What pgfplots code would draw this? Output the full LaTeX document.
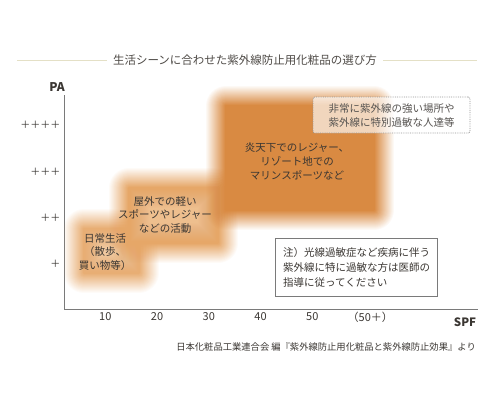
\documentclass[border=0pt]{standalone}
\usepackage{fontspec}
\setmainfont{Noto Sans CJK JP}
\usepackage{pgfplots}
\pgfplotsset{compat=1.18}

\definecolor{txt}{HTML}{3A3632}
\definecolor{axisgray}{HTML}{7A7A7A}
\definecolor{rulebeige}{HTML}{E4E0C6}
\definecolor{bigfill}{HTML}{D98A42}
\definecolor{midfill}{HTML}{EEBF8E}
\definecolor{midring}{HTML}{E6A768}
\definecolor{lowfill}{HTML}{F1CAA2}
\definecolor{lowring}{HTML}{E8AE74}

% one stroke of the soft edge
\newcommand{\ringlayer}[7]{%
  \addplot[draw=#5, line width=#6pt, draw opacity=#7, line join=round, forget plot]
    coordinates {(#1,#2) (#3,#2) (#3,#4) (#1,#4)} -- cycle;%
}
% soft edge: opacity 1/k for half width k gives a linear fade of 20pt
\newcommand{\blurring}[5]{%
  \ringlayer{#1}{#2}{#3}{#4}{#5}{40}{0.05}
  \ringlayer{#1}{#2}{#3}{#4}{#5}{38}{0.0526}
  \ringlayer{#1}{#2}{#3}{#4}{#5}{36}{0.0556}
  \ringlayer{#1}{#2}{#3}{#4}{#5}{34}{0.0588}
  \ringlayer{#1}{#2}{#3}{#4}{#5}{32}{0.0625}
  \ringlayer{#1}{#2}{#3}{#4}{#5}{30}{0.0667}
  \ringlayer{#1}{#2}{#3}{#4}{#5}{28}{0.0714}
  \ringlayer{#1}{#2}{#3}{#4}{#5}{26}{0.0769}
  \ringlayer{#1}{#2}{#3}{#4}{#5}{24}{0.0833}
  \ringlayer{#1}{#2}{#3}{#4}{#5}{22}{0.0909}
  \ringlayer{#1}{#2}{#3}{#4}{#5}{20}{0.1}
  \ringlayer{#1}{#2}{#3}{#4}{#5}{18}{0.1111}
  \ringlayer{#1}{#2}{#3}{#4}{#5}{16}{0.125}
  \ringlayer{#1}{#2}{#3}{#4}{#5}{14}{0.1429}
  \ringlayer{#1}{#2}{#3}{#4}{#5}{12}{0.1667}
  \ringlayer{#1}{#2}{#3}{#4}{#5}{10}{0.2}
  \ringlayer{#1}{#2}{#3}{#4}{#5}{8}{0.25}
  \ringlayer{#1}{#2}{#3}{#4}{#5}{6}{0.3333}
  \ringlayer{#1}{#2}{#3}{#4}{#5}{4}{0.5}
  \ringlayer{#1}{#2}{#3}{#4}{#5}{2}{1}
}
\newcommand{\boxfill}[5]{%
  \addplot[fill=#5, draw=none, forget plot]
    coordinates {(#1,#2) (#3,#2) (#3,#4) (#1,#4)} -- cycle;%
}

\begin{document}
\begin{tikzpicture}[x=1pt,y=1pt]
\path[use as bounding box] (0,0) rectangle (500,-400);

% title with rules
\draw[rulebeige, line width=0.9pt] (17,-60) -- (107,-60);
\draw[rulebeige, line width=0.9pt] (383,-60) -- (477,-60);
\node[text=txt!90, font=\fontsize{11.5}{12}\selectfont] at (245,-60) {生活シーンに合わせた紫外線防止用化粧品の選び方};

\begin{axis}[
  at={(64pt,-309pt)}, anchor=south west,
  scale only axis, width=414pt, height=214pt,
  xmin=2.03, xmax=82, ymin=0.03, ymax=4.65,
  axis lines*=left,
  axis line style={draw=axisgray, line width=0.9pt},
  xtick={10,20,30,40,50,61.2},
  xticklabels={10,20,30,40,50,（50＋）},
  ytick={1,2,3,4},
  yticklabels={＋,＋＋,＋＋＋,＋＋＋＋},
  major tick length=0pt,
  tick label style={font=\fontsize{11}{12}\selectfont, text=txt},
  yticklabel style={font=\fontsize{10}{12}\selectfont},
  /pgf/number format/assume math mode=true,
  clip=false,
]
% daily life
\boxfill{5.9}{0.81}{16.5}{1.75}{lowfill}
\blurring{5.9}{0.81}{16.5}{1.75}{lowring}
% light outdoor sports
\boxfill{14.6}{1.45}{31.8}{2.64}{midfill}
\blurring{14.6}{1.45}{31.8}{2.64}{midring}
% hot sun, resort
\boxfill{33.3}{2.16}{61.9}{4.41}{bigfill}
\blurring{33.3}{2.16}{61.9}{4.41}{bigfill}
\end{axis}

% axis titles
\node[text=txt, font=\fontsize{12}{12}\selectfont\bfseries] at (57,-87) {PA};
\node[text=txt, font=\fontsize{11.5}{12}\selectfont\bfseries] at (465,-322) {SPF};

% texts in the regions
\node[text=txt, align=center, font=\fontsize{10.5}{13.5}\selectfont] at (105,-252) {日常生活\\（散歩、\\買い物等）};
\node[text=txt, align=center, font=\fontsize{10.5}{13.5}\selectfont] at (165,-215) {屋外での軽い\\スポーツやレジャー\\などの活動};
\node[text=txt, align=center, font=\fontsize{10.5}{14}\selectfont] at (297,-161) {炎天下でのレジャー、\\リゾート地での\\マリンスポーツなど};

% dotted box
\node[draw=axisgray!80, densely dotted, line width=0.8pt, rounded corners=2pt,
      fill=white, fill opacity=0.65, text opacity=1,
      minimum width=157pt, minimum height=36pt, inner sep=0pt,
      text=txt!85, align=center, font=\fontsize{10.5}{14}\selectfont] at (391.5,-115)
      {非常に紫外線の強い場所や\\紫外線に特別過敏な人達等};

% note box
\draw[axisgray, line width=0.8pt] (275,-238) rectangle (437,-296);
\node[anchor=west, text=txt, align=left, font=\fontsize{10.5}{15}\selectfont, inner sep=0pt] at (283,-267)
      {注）光線過敏症など疾病に伴う\\紫外線に特に過敏な方は医師の\\指導に従ってください};

% source
\node[anchor=east, text=txt, font=\fontsize{9.3}{10}\selectfont, inner sep=0pt] at (476,-347)
      {日本化粧品工業連合会 編『紫外線防止用化粧品と紫外線防止効果』より};
\end{tikzpicture}
\end{document}
